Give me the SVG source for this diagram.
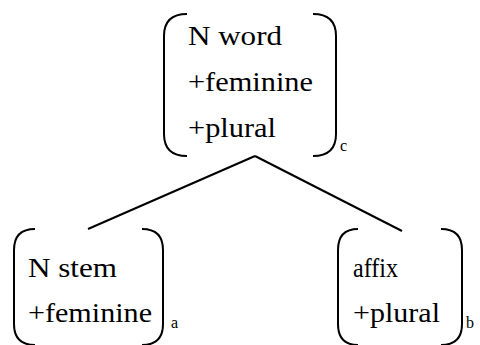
<svg xmlns="http://www.w3.org/2000/svg" width="480" height="345" viewBox="0 0 480 345" font-family="'Liberation Serif', 'Times New Roman', 'DejaVu Serif', serif">
<style>
.br{fill:none;stroke:#000;stroke-width:2;}
.ln{stroke:#000;stroke-width:2;}
.t{font-size:28px;font-family:'Liberation Serif','Times New Roman',serif;}
.s{font-size:16px;font-family:'Liberation Serif','Times New Roman',serif;}
</style>
<rect width="480" height="345" fill="#fff"/>
<g id="connectors">
<line class="ln" x1="255" y1="156" x2="88" y2="229"/>
<line class="ln" x1="255" y1="156" x2="402" y2="231"/>
</g>
<g id="node-c">
<path class="br" d="M187,14 Q164,14 164,36 V134 Q164,156 187,156"/>
<path class="br" d="M313,14 Q336,14 336,36 V134 Q336,156 313,156"/>
<text class="t" x="188" y="45" textLength="94" lengthAdjust="spacingAndGlyphs">N word</text>
<text class="t" x="188" y="91" textLength="125" lengthAdjust="spacingAndGlyphs">+feminine</text>
<text class="t" x="188" y="137" textLength="88" lengthAdjust="spacingAndGlyphs">+plural</text>
<text class="s" x="340" y="151">c</text>
</g>
<g id="node-a">
<path class="br" d="M35,229 Q14,229 14,250 V324 Q14,345 35,345"/>
<path class="br" d="M142,229 Q163,229 163,250 V324 Q163,345 142,345"/>
<text class="t" x="28" y="277" textLength="89" lengthAdjust="spacingAndGlyphs">N stem</text>
<text class="t" x="28" y="322" textLength="124" lengthAdjust="spacingAndGlyphs">+feminine</text>
<text class="s" x="171" y="328">a</text>
</g>
<g id="node-b">
<path class="br" d="M358,229 Q338,229 338,250 V324 Q338,345 358,345"/>
<path class="br" d="M441,229 Q462,229 462,250 V324 Q462,345 441,345"/>
<text class="t" x="353" y="277" textLength="45" lengthAdjust="spacingAndGlyphs">affix</text>
<text class="t" x="353" y="322" textLength="87" lengthAdjust="spacingAndGlyphs">+plural</text>
<text class="s" x="466" y="328">b</text>
</g>
</svg>
